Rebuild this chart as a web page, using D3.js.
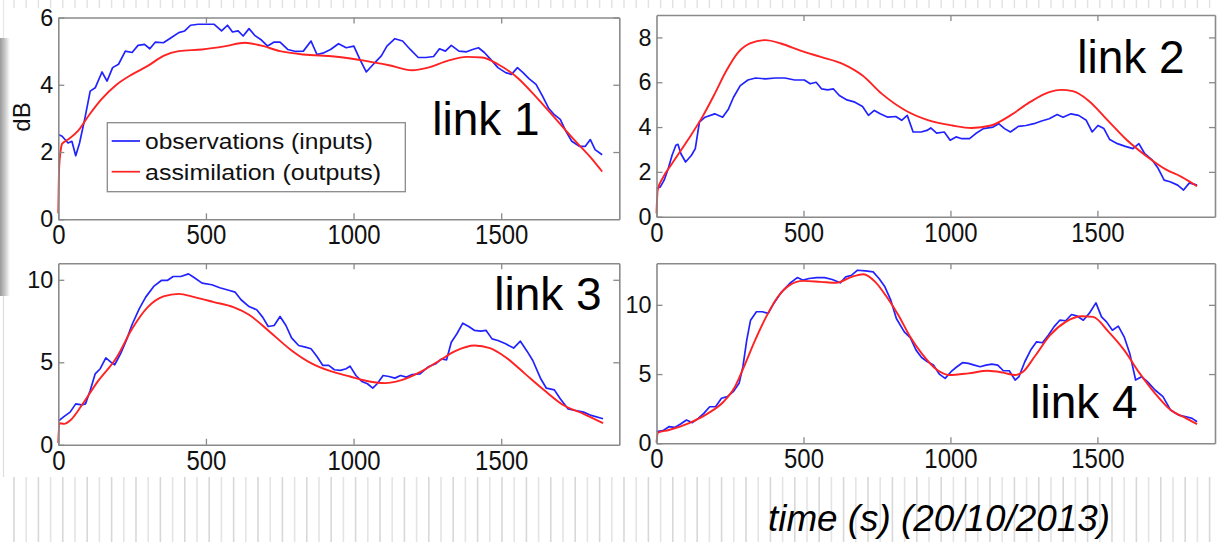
<!DOCTYPE html>
<html>
<head>
<meta charset="utf-8">
<script src="https://cdn.jsdelivr.net/npm/d3@7"></script>
<style>
  html, body { margin: 0; padding: 0; background: #fff; }
  svg { display: block; font-family: "Liberation Sans", Arial, Helvetica, sans-serif; }
</style>
</head>
<body>
<svg id="chart" width="1220" height="542"></svg>
<script>
// ---------- DATA (time in s, value in dB) ----------
const xTicks = [0, 500, 1000, 1500];
const panelNames = ["link 1", "link 2", "link 3", "link 4"];
const yMax = [6, 9, 11, 13];
const yTicks1 = [0, 2, 4, 6];
const yTicks2 = [0, 2, 4, 6, 8];
const yTicks3 = [0, 5, 10];
const yTicks4 = [0, 5, 10];
const legendLabels = ["observations (inputs)", "assimilation (outputs)"];
const yLabel = "dB";
const xLabel = "time (s) (20/10/2013)";

const obs1 = [[0,2.52],[13,2.47],[33,2.27],[46,2.32],[59,1.89],[72,2.27],[90,3.0],[108,3.81],[125,3.91],[148,4.38],[165,4.11],[184,4.51],[204,4.61],[227,5.0],[250,4.96],[270,5.17],[292,5.2],[310,5.07],[329,5.27],[356,5.25],[382,5.4],[408,5.55],[428,5.6],[448,5.77],[474,5.8],[500,5.8],[527,5.8],[553,5.6],[573,5.77],[590,5.57],[609,5.6],[626,5.45],[646,5.67],[665,5.47],[688,5.33],[709,5.15],[731,5.27],[751,5.27],[777,5.05],[804,4.99],[830,5.0],[856,5.3],[876,4.9],[896,4.94],[922,5.05],[949,5.22],[975,5.1],[1001,5.15],[1021,4.76],[1043,4.38],[1067,4.61],[1094,4.86],[1113,5.15],[1140,5.37],[1166,5.3],[1192,5.05],[1219,4.81],[1245,4.81],[1271,4.84],[1291,5.07],[1311,5.0],[1331,5.17],[1357,5.0],[1383,4.98],[1403,5.05],[1423,5.1],[1443,4.96],[1469,4.71],[1489,4.51],[1515,4.36],[1535,4.31],[1555,4.51],[1574,4.36],[1594,4.18],[1618,4.01],[1640,3.66],[1660,3.31],[1680,3.11],[1700,2.97],[1719,2.62],[1739,2.32],[1765,2.17],[1785,2.17],[1802,2.37],[1818,2.07],[1842,1.92]];
const asm1 = [[0,0.18],[3,1.57],[7,1.97],[13,2.25],[33,2.37],[66,2.62],[105,3.11],[145,3.56],[198,4.01],[250,4.31],[303,4.56],[356,4.86],[408,5.0],[487,5.05],[567,5.15],[632,5.25],[685,5.17],[751,5.0],[830,4.9],[935,4.84],[1041,4.71],[1120,4.58],[1199,4.43],[1252,4.51],[1318,4.71],[1383,4.83],[1436,4.81],[1489,4.61],[1555,4.21],[1621,3.61],[1686,2.97],[1752,2.32],[1805,1.82],[1842,1.42]];

const obs2 = [[0,1.26],[13,1.33],[26,1.63],[40,2.15],[53,2.74],[66,3.19],[73,3.23],[83,2.81],[99,2.44],[119,2.74],[132,3.04],[146,4.22],[165,4.44],[198,4.59],[225,4.44],[245,4.81],[262,5.33],[285,5.85],[311,6.1],[337,6.19],[371,6.15],[404,6.19],[437,6.19],[470,6.1],[503,6.1],[523,5.93],[543,6.0],[562,5.7],[582,5.66],[602,5.7],[622,5.41],[648,5.21],[675,5.11],[701,4.92],[721,4.52],[741,4.74],[761,4.59],[787,4.44],[814,4.47],[834,4.3],[853,4.52],[873,3.78],[900,3.78],[920,3.85],[933,3.96],[953,3.73],[979,3.78],[999,3.41],[1019,3.56],[1039,3.48],[1065,3.48],[1085,3.7],[1112,3.93],[1145,4.0],[1164,4.15],[1184,3.93],[1204,3.78],[1231,4.03],[1257,4.07],[1284,4.15],[1310,4.27],[1336,4.37],[1363,4.56],[1383,4.44],[1410,4.59],[1436,4.52],[1462,4.3],[1482,3.78],[1502,4.07],[1522,3.93],[1542,3.44],[1568,3.26],[1595,3.14],[1621,3.04],[1641,3.26],[1661,2.81],[1687,2.52],[1707,2.15],[1727,1.63],[1747,1.56],[1773,1.41],[1793,1.19],[1813,1.51],[1839,1.41]];
const asm2 = [[0,0.15],[4,1.19],[20,1.7],[53,2.37],[106,3.41],[159,4.52],[198,5.48],[238,6.52],[278,7.33],[318,7.73],[371,7.88],[423,7.73],[490,7.41],[556,7.14],[635,6.81],[701,6.3],[767,5.48],[847,4.74],[926,4.3],[1006,4.07],[1072,3.96],[1138,4.07],[1204,4.52],[1270,5.11],[1336,5.56],[1376,5.66],[1416,5.6],[1469,5.19],[1535,4.3],[1601,3.41],[1667,2.7],[1734,2.1],[1786,1.78],[1839,1.36]];

const obs3 = [[0,1.43],[20,1.72],[40,1.98],[59,2.48],[79,2.42],[92,2.48],[108,3.29],[125,4.3],[142,4.61],[161,5.27],[178,5.01],[191,4.85],[211,5.52],[231,6.36],[250,7.29],[274,8.24],[296,8.95],[323,9.6],[349,9.96],[369,9.96],[389,10.2],[415,10.2],[441,10.36],[461,10.12],[487,9.8],[520,9.7],[547,9.52],[580,9.35],[599,9.25],[619,8.79],[646,8.38],[672,8.18],[692,7.74],[711,7.17],[731,7.23],[751,7.78],[771,7.23],[790,6.48],[814,6.02],[837,5.92],[856,5.82],[876,5.35],[896,4.81],[916,4.81],[935,4.55],[955,4.51],[975,4.61],[988,4.77],[1008,4.2],[1028,3.84],[1047,3.7],[1065,3.43],[1080,3.7],[1100,4.2],[1120,4.14],[1140,4.04],[1159,4.2],[1179,4.1],[1199,4.26],[1225,4.3],[1252,4.71],[1278,4.91],[1298,5.21],[1315,5.15],[1331,6.22],[1350,6.73],[1370,7.37],[1390,7.17],[1410,6.93],[1430,6.89],[1449,6.93],[1469,6.42],[1489,6.32],[1515,6.12],[1542,5.86],[1565,6.28],[1588,5.66],[1607,5.11],[1634,4.0],[1653,3.43],[1680,3.33],[1700,2.79],[1726,2.18],[1752,2.08],[1779,1.98],[1805,1.78],[1845,1.58]];
const asm3 = [[0,0.1],[3,1.31],[20,1.27],[40,1.47],[79,2.38],[132,3.8],[198,5.31],[250,7.03],[303,8.34],[356,8.99],[408,9.15],[461,8.95],[527,8.65],[593,8.34],[646,7.88],[711,6.93],[790,5.72],[856,4.95],[922,4.46],[988,4.14],[1054,3.84],[1107,3.74],[1159,3.9],[1225,4.4],[1291,5.11],[1344,5.68],[1410,6.02],[1462,5.86],[1515,5.31],[1581,4.3],[1647,3.29],[1713,2.38],[1779,1.88],[1845,1.31]];

const obs4 = [[0,0.84],[22,0.91],[42,1.2],[62,1.15],[82,1.39],[102,1.68],[122,1.49],[142,1.8],[161,2.16],[181,2.64],[201,2.64],[221,3.25],[241,3.37],[261,3.73],[281,4.33],[294,5.53],[307,7.45],[320,8.89],[340,9.5],[360,9.5],[380,9.38],[400,10.14],[426,10.94],[453,11.54],[479,11.97],[499,11.78],[519,11.9],[545,11.97],[572,11.97],[598,11.83],[625,11.59],[644,12.02],[664,12.14],[684,12.5],[711,12.45],[737,12.38],[757,11.9],[777,11.3],[797,10.34],[816,9.01],[843,8.05],[863,7.64],[883,6.73],[902,6.2],[922,5.89],[942,5.65],[962,5.0],[982,4.69],[1002,5.17],[1022,5.53],[1041,5.82],[1061,5.77],[1081,5.65],[1101,5.53],[1121,5.65],[1141,5.72],[1161,5.65],[1180,5.24],[1200,5.24],[1220,4.57],[1233,4.81],[1253,5.89],[1273,6.73],[1293,7.33],[1313,7.26],[1333,7.81],[1352,8.41],[1372,8.89],[1392,8.85],[1412,9.3],[1432,9.18],[1452,8.89],[1472,9.38],[1495,10.14],[1514,9.13],[1531,8.77],[1551,8.17],[1571,8.46],[1591,7.69],[1610,6.49],[1630,4.57],[1650,4.81],[1670,4.45],[1696,3.85],[1723,3.37],[1749,2.4],[1776,2.04],[1802,1.92],[1822,1.8],[1839,1.56]];
const asm4 = [[0,0.05],[5,0.77],[42,0.96],[109,1.44],[175,2.16],[228,3.0],[267,4.09],[300,5.65],[333,7.33],[373,9.13],[413,10.58],[453,11.42],[499,11.73],[558,11.66],[611,11.59],[664,12.02],[704,12.21],[744,11.66],[783,10.58],[823,9.25],[863,7.69],[902,6.49],[955,5.29],[995,4.93],[1061,5.05],[1127,5.24],[1180,5.1],[1220,4.93],[1247,5.17],[1286,6.25],[1339,7.81],[1392,8.77],[1445,9.18],[1485,9.13],[1538,8.05],[1591,6.73],[1644,5.05],[1696,3.61],[1749,2.4],[1802,1.8],[1839,1.39]];

// ---------- LAYOUT ----------
const panels = [
  {obs: obs1, asm: asm1, ymax: yMax[0], yt: yTicks1, name: panelNames[0], x0: 58.3, x1: 619.3, top: 17.5, bot: 219.3, lab: [486, 135]},
  {obs: obs2, asm: asm2, ymax: yMax[1], yt: yTicks2, name: panelNames[1], x0: 656.5, x1: 1215, top: 15, bot: 216.7, lab: [1131, 73]},
  {obs: obs3, asm: asm3, ymax: yMax[2], yt: yTicks3, name: panelNames[2], x0: 58.3, x1: 619.3, top: 263.3, bot: 444.8, lab: [548, 310]},
  {obs: obs4, asm: asm4, ymax: yMax[3], yt: yTicks4, name: panelNames[3], x0: 656.5, x1: 1215, top: 263.3, bot: 443.3, lab: [1084, 418]}
];

const svg = d3.select("#chart");
const AX = "#8a8a8a";
const BLUE = "#2222ff";
const RED = "#ff2222";

// ---------- background slide decorations ----------
const deco = svg.append("g");
const defs = svg.append("defs");
const grad = defs.append("linearGradient").attr("id", "shade").attr("x1", 0).attr("x2", 1).attr("y1", 0).attr("y2", 0);
grad.append("stop").attr("offset", 0).attr("stop-color", "#9a9a9a");
grad.append("stop").attr("offset", 0.5).attr("stop-color", "#c8c8c8");
grad.append("stop").attr("offset", 1).attr("stop-color", "#ffffff");
deco.append("rect").attr("x", 0).attr("y", 38).attr("width", 10).attr("height", 258).attr("fill", "url(#shade)");
deco.append("line").attr("x1", 3.5).attr("x2", 3.5).attr("y1", 296).attr("y2", 477).attr("stroke", "#dedede").attr("stroke-width", 1.2);
deco.append("line").attr("x1", 3.5).attr("x2", 3.5).attr("y1", 0).attr("y2", 38).attr("stroke", "#e6e6e6").attr("stroke-width", 1.2);
const stripeXs = d3.range(14, 1216, 12.2);
deco.selectAll("line.bot").data(stripeXs).join("line").attr("class", "bot")
  .attr("x1", d => d).attr("x2", d => d).attr("y1", 477).attr("y2", 542)
  .attr("stroke", (d, i) => i % 2 ? "#e4e4e4" : "#d8d8d8").attr("stroke-width", 1.6);
deco.selectAll("line.top").data(stripeXs).join("line").attr("class", "top")
  .attr("x1", d => d).attr("x2", d => d).attr("y1", 0).attr("y2", 8)
  .attr("stroke", "#e2e2e2").attr("stroke-width", 1.4);

// ---------- panels ----------
panels.forEach((p, i) => {
  const x = d3.scaleLinear().domain([0, 1900]).range([p.x0, p.x1]);
  const y = d3.scaleLinear().domain([0, p.ymax]).range([p.bot, p.top]);
  const g = svg.append("g");

  g.append("rect").attr("x", p.x0).attr("y", p.top).attr("width", p.x1 - p.x0).attr("height", p.bot - p.top).attr("fill", "#fff");

  const line = d3.line().x(d => x(d[0])).y(d => y(d[1]));
  g.append("path").datum(p.obs).attr("d", line.curve(d3.curveLinear))
    .attr("fill", "none").attr("stroke", BLUE).attr("stroke-width", 1.7).attr("stroke-linejoin", "round");
  g.append("path").datum(p.asm).attr("d", d3.line().x(d => x(d[0])).y(d => y(d[1])).curve(d3.curveMonotoneX))
    .attr("fill", "none").attr("stroke", RED).attr("stroke-width", 1.9);

  const styleAxis = sel => {
    sel.select(".domain").attr("stroke", AX).attr("stroke-width", 1.6);
    sel.selectAll(".tick line").attr("stroke", AX).attr("stroke-width", 1.3);
    sel.selectAll("text").attr("fill", "#111").attr("font-family", "Liberation Sans, Arial, sans-serif");
  };

  const bottom = g.append("g").attr("transform", `translate(0,${p.bot})`)
    .call(d3.axisBottom(x).tickValues(xTicks).tickSize(-6).tickSizeOuter(0).tickPadding(5).tickFormat(d3.format("d")));
  styleAxis(bottom);
  bottom.selectAll("text").attr("font-size", 28)
    .attr("textLength", d => String(d).length * 13.3).attr("lengthAdjust", "spacingAndGlyphs");

  const top = g.append("g").attr("transform", `translate(0,${p.top})`)
    .call(d3.axisTop(x).tickValues(xTicks.slice(1)).tickSize(-6).tickSizeOuter(0).tickFormat(""));
  styleAxis(top);

  const left = g.append("g").attr("transform", `translate(${p.x0},0)`)
    .call(d3.axisLeft(y).tickValues(p.yt).tickSize(-6).tickSizeOuter(0).tickPadding(5).tickFormat(d3.format("d")));
  styleAxis(left);
  left.selectAll("text").attr("font-size", 24)
    .attr("textLength", d => String(d).length * 13).attr("lengthAdjust", "spacingAndGlyphs");

  const right = g.append("g").attr("transform", `translate(${p.x1},0)`)
    .call(d3.axisRight(y).tickValues(p.yt.slice(1)).tickSize(-6).tickSizeOuter(0).tickFormat(""));
  styleAxis(right);

  g.append("text").attr("x", p.lab[0]).attr("y", p.lab[1]).attr("text-anchor", "middle")
    .attr("font-size", 46).attr("fill", "#000").text(p.name);

  if (i === 0) {
    // y label
    g.append("text").attr("transform", "translate(30,117) rotate(-90)").attr("text-anchor", "middle")
      .attr("font-size", 24).attr("fill", "#111").text(yLabel);
    // legend
    const lg = g.append("g");
    lg.append("rect").attr("x", 107.3).attr("y", 122.7).attr("width", 298).attr("height", 69)
      .attr("fill", "#fff").attr("stroke", AX).attr("stroke-width", 1.3);
    [BLUE, RED].forEach((c, k) => {
      const yy = 141 + k * 30.7;
      lg.append("line").attr("x1", 111.7).attr("x2", 140).attr("y1", yy).attr("y2", yy)
        .attr("stroke", c).attr("stroke-width", 1.7);
      lg.append("text").attr("x", 145).attr("y", yy + 8.3).attr("font-size", 22).attr("fill", "#111")
        .attr("textLength", k === 0 ? 228 : 236).attr("lengthAdjust", "spacingAndGlyphs")
        .text(legendLabels[k]);
    });
  }
});

// x label
svg.append("text").attr("x", 939).attr("y", 531).attr("text-anchor", "middle")
  .attr("font-size", 37).attr("font-style", "italic").attr("fill", "#000")
  .attr("textLength", 342).attr("lengthAdjust", "spacingAndGlyphs").text(xLabel);
</script>
</body>
</html>
